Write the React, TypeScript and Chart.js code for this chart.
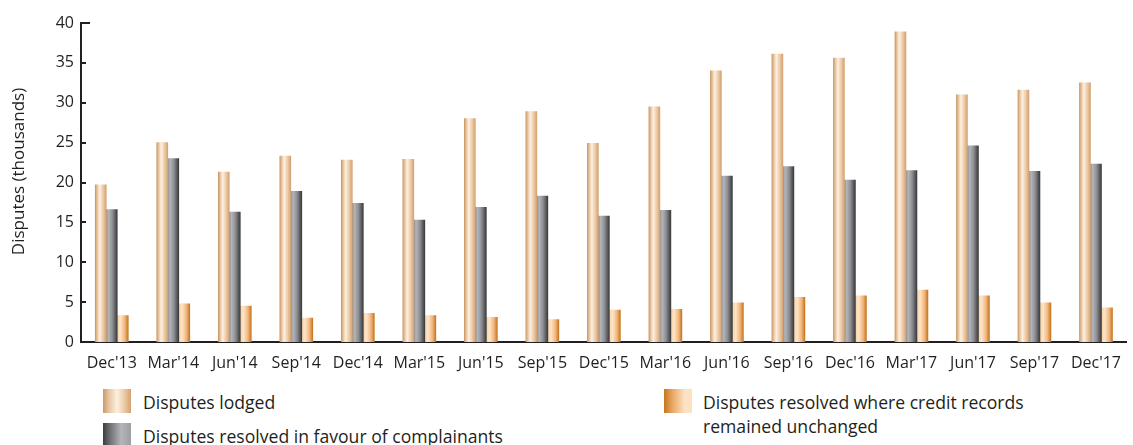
import React, { useEffect, useRef } from 'react';
import { Chart, registerables } from 'chart.js';

Chart.register(...registerables);

const categories = ["Dec'13", "Mar'14", "Jun'14", "Sep'14", "Dec'14", "Mar'15", "Jun'15", "Sep'15", "Dec'15", "Mar'16", "Jun'16", "Sep'16", "Dec'16", "Mar'17", "Jun'17", "Sep'17", "Dec'17"];
const lodged = [19.7, 25.0, 21.3, 23.3, 22.8, 22.9, 28.0, 28.9, 24.9, 29.5, 34.0, 36.1, 35.6, 38.9, 31.0, 31.6, 32.5];
const resolvedFavour = [16.6, 23.0, 16.3, 18.9, 17.4, 15.3, 16.9, 18.3, 15.8, 16.5, 20.8, 22.0, 20.3, 21.5, 24.6, 21.4, 22.3];
const unchanged = [3.3, 4.8, 4.5, 3.0, 3.6, 3.3, 3.1, 2.8, 4.0, 4.1, 4.9, 5.6, 5.8, 6.5, 5.8, 4.9, 4.3];
const yMin = 0;
const yMax = 40;
const yStep = 5;
const yTitle = 'Disputes (thousands)';
const seriesNames = [
  'Disputes lodged',
  'Disputes resolved in favour of complainants',
  'Disputes resolved where credit records remained unchanged',
];

const FONT = "'Open Sans', 'DejaVu Sans', sans-serif";
const INK = '#231f20';
const BAR_W = 11;

const gradStops: Array<Array<[number, string]>> = [
  [[0, '#cc9866'], [0.15, '#e4bf98'], [0.4, '#fdf0e2'], [0.7, '#edcca8'], [1, '#d4a270']],
  [[0, '#8d8f93'], [0.2, '#b3b5b9'], [0.55, '#8e9094'], [1, '#3b3b3d']],
  [[0, '#f9d4a8'], [0.3, '#fde4c6'], [0.7, '#f0b57c'], [1, '#c6761d']],
];

const cssGrad = [
  'linear-gradient(to right, #cc9866 0%, #e6c4a0 20%, #fdf0e2 50%, #edcca8 75%, #d4a270 100%)',
  'linear-gradient(to right, #3b3b3d 0%, #6e7074 25%, #b3b5b9 65%, #9c9ea2 100%)',
  'linear-gradient(to right, #c6761d 0%, #e9a664 30%, #fde4c6 75%, #fbe0c0 100%)',
];

function barGradient(c: any) {
  const chart = c.chart;
  const fallback = gradStops[c.datasetIndex][2][1];
  const xs = chart.scales && chart.scales.x;
  if (!xs || c.dataIndex === undefined) return fallback;
  const center = xs.getPixelForValue(c.dataIndex) + (c.datasetIndex - 1) * BAR_W;
  if (!Number.isFinite(center)) return fallback;
  const g = chart.ctx.createLinearGradient(center - BAR_W / 2, 0, center + BAR_W / 2, 0);
  for (const [o, col] of gradStops[c.datasetIndex]) g.addColorStop(o, col);
  return g;
}

const axisExtras = {
  id: 'axisExtras',
  afterDraw(chart: any) {
    const ys = chart.scales.y;
    const ctx = chart.ctx;
    const left = chart.chartArea.left;
    ctx.save();
    ctx.strokeStyle = INK;
    ctx.lineWidth = 2;
    for (let v = yMin + yStep; v <= yMax; v += yStep) {
      const py = Math.round(ys.getPixelForValue(v));
      const len = v === yMax ? 9 : 5;
      ctx.beginPath();
      ctx.moveTo(left, py);
      ctx.lineTo(left + len, py);
      ctx.stroke();
    }
    // y-axis title, placed slightly above the axis mid-point as in the reference
    const midY = (ys.getPixelForValue(yMin) + ys.getPixelForValue(yMax)) / 2 - 11;
    ctx.translate(19, midY);
    ctx.rotate(-Math.PI / 2);
    ctx.fillStyle = INK;
    ctx.font = `17px ${FONT}`;
    ctx.textAlign = 'center';
    ctx.textBaseline = 'middle';
    ctx.fillText(yTitle, 0, 0);
    ctx.restore();
  },
};

export default function App() {
  const ref = useRef<HTMLCanvasElement>(null);
  useEffect(() => {
    if (!ref.current) return;
    const chart = new Chart(ref.current, {
      type: 'bar',
      data: {
        labels: categories,
        datasets: [lodged, resolvedFavour, unchanged].map((d, i) => ({
          label: seriesNames[i],
          data: d,
          backgroundColor: barGradient,
          borderWidth: 0,
          barThickness: BAR_W,
        })),
      },
      options: {
        animation: false,
        responsive: true,
        maintainAspectRatio: false,
        layout: { padding: { left: 0, right: 0, top: 23, bottom: 0 } },
        plugins: {
          legend: { display: false },
          tooltip: { enabled: false },
        },
        scales: {
          x: {
            grid: { display: false, drawTicks: false },
            border: { display: true, color: INK, width: 2 },
            ticks: { color: INK, font: { family: FONT, size: 16 }, padding: 12, maxRotation: 0, autoSkip: false },
            afterFit: (s: any) => { s.height = 38; },
          },
          y: {
            min: yMin,
            max: yMax,
            grid: { display: false, drawTicks: false },
            border: { display: true, color: INK, width: 2 },
            ticks: { stepSize: yStep, color: INK, font: { family: FONT, size: 16 }, padding: 7 },
            title: { display: false, text: yTitle },
            afterFit: (s: any) => { s.width = 81; },
          },
        },
      },
      plugins: [axisExtras],
    });
    return () => chart.destroy();
  }, []);

  const textStyle: React.CSSProperties = {
    position: 'absolute',
    fontFamily: FONT,
    fontSize: 17.6,
    color: INK,
    lineHeight: '24px',
    whiteSpace: 'nowrap',
  };
  const sw = (i: number, left: number, top: number) => (
    <div style={{ position: 'absolute', left, top, width: 28, height: 24, background: cssGrad[i] }} />
  );

  return (
    <div style={{ position: 'absolute', left: 0, top: 0, width: 1133, height: 445, overflow: 'hidden', background: '#fff' }}>
      <div style={{ position: 'absolute', left: 0, top: 0, width: 1133, height: 380 }}>
        <canvas ref={ref} />
      </div>
      {sw(0, 103, 389)}
      <div style={{ ...textStyle, left: 143, top: 390 }}>{seriesNames[0]}</div>
      {sw(1, 103, 423)}
      <div style={{ ...textStyle, left: 143, top: 424 }}>{seriesNames[1]}</div>
      {sw(2, 664, 389)}
      <div style={{ ...textStyle, left: 703, top: 390 }}>
        Disputes resolved where credit records
        <br />
        remained unchanged
      </div>
    </div>
  );
}
